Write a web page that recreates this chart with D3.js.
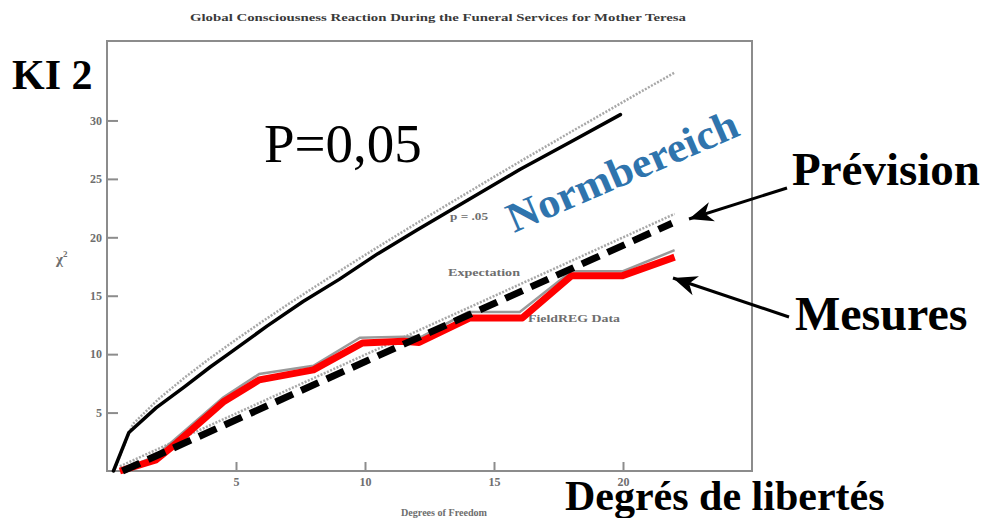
<!DOCTYPE html>
<html>
<head>
<meta charset="utf-8">
<script src="https://cdn.jsdelivr.net/npm/d3@7"></script>
<style>
  body { margin: 0; background: #fff; }
  svg { display: block; }
  .tick text { font-family: 'Liberation Serif', serif; font-weight: bold; font-size: 12px; fill: #6e6e6e; }
  .tick line { stroke: #8c8c8c; stroke-width: 2; }
  .domain { display: none; }
</style>
</head>
<body>
<svg id="chart"></svg>
<script>
// chi-square critical values at p = .05 (grey dotted curve of the original plot)
const critDf  = [0.3, 1, 2, 3, 4, 5, 6, 7, 8, 9, 10, 11, 12, 13, 14, 15, 16, 17, 18, 19, 20, 21, 22];
const critChi = [0, 3.84, 5.99, 7.81, 9.49, 11.07, 12.59, 14.07, 15.51, 16.92, 18.31, 19.68, 21.03,
                 22.36, 23.68, 25.0, 26.3, 27.59, 28.87, 30.14, 31.41, 32.67, 33.92];

// hand drawn black trace over the p = .05 curve
const traceDf  = [0.25, 0.85, 1.9, 3.0, 4.0, 4.7, 6.2, 7.6, 9.0, 10.5, 12.0, 13.3, 16.0, 18.0, 19.9];
const traceChi = [0, 3.3, 5.4, 7.2, 8.9, 10.0, 12.4, 14.5, 16.4, 18.6, 20.6, 22.3, 25.8, 28.2, 30.5];

// expectation (grey dotted) and the thick dashed "Prévision" line
const expectDf  = [0.5, 22];
const expectChi = [0.4, 22];
const predDf  = [0.6, 21.9];
const predChi = [0, 21.2];

// FieldREG data (grey) and the red "Mesures" trace
const fieldDf  = [0.5, 1.9, 4.5, 5.9, 8.0, 9.8, 11.5, 12.2, 14.0, 16.0, 18.0, 20.0, 22.0];
const fieldChi = [0, 1.3, 6.3, 8.3, 9.0, 11.4, 11.5, 11.5, 13.6, 13.6, 17.1, 17.1, 18.9];
const redDf  = [0.5, 1.9, 2.7, 4.5, 5.9, 8.0, 9.9, 11.5, 12.1, 14.07, 16.1, 18.0, 19.96, 22.0];
const redChi = [0, 0.95, 2.4, 5.9, 7.8, 8.65, 10.95, 11.1, 11.0, 13.1, 13.1, 16.7, 16.7, 18.3];

const xTicks = [5, 10, 15, 20];
const yTicks = [5, 10, 15, 20, 25, 30];

const width = 992, height = 518;
const frame = { left: 107, right: 752, top: 41, bottom: 471 };

const svg = d3.select('#chart').attr('width', width).attr('height', height);

const x = d3.scaleLinear().domain([0, 25]).range([frame.left, frame.right]);
const y = d3.scaleLinear().domain([0, 36.8]).range([frame.bottom, frame.top]);

// plot frame
svg.append('rect')
  .attr('x', frame.left).attr('y', frame.top)
  .attr('width', frame.right - frame.left).attr('height', frame.bottom - frame.top)
  .attr('fill', 'none').attr('stroke', '#8c8c8c').attr('stroke-width', 2);

// axes, ticks point inwards
svg.append('g')
  .attr('transform', `translate(${frame.left},0)`)
  .call(d3.axisLeft(y).tickValues(yTicks).tickSizeInner(-11).tickSizeOuter(0).tickPadding(5));

svg.append('g')
  .attr('transform', `translate(0,${frame.bottom})`)
  .call(d3.axisBottom(x).tickValues(xTicks).tickSizeInner(-9).tickSizeOuter(0).tickPadding(6));

// small texts of the scanned chart
svg.append('text')
  .attr('x', 190).attr('y', 21)
  .attr('textLength', 496).attr('lengthAdjust', 'spacingAndGlyphs')
  .style('font-family', 'Liberation Serif, serif').style('font-weight', 'bold')
  .style('font-size', '11px').style('fill', '#3a3a3a')
  .text('Global Consciousness Reaction During the Funeral Services for Mother Teresa');

svg.append('text')
  .attr('x', 401).attr('y', 516)
  .attr('textLength', 86).attr('lengthAdjust', 'spacingAndGlyphs')
  .style('font-family', 'Liberation Serif, serif').style('font-weight', 'bold')
  .style('font-size', '10px').style('fill', '#6e6e6e')
  .text('Degrees of Freedom');

const chiLabel = svg.append('text')
  .attr('x', 56).attr('y', 264)
  .style('font-family', 'Liberation Serif, serif').style('font-weight', 'bold')
  .style('font-size', '15px').style('fill', '#6e6e6e');
chiLabel.append('tspan').text('χ');
chiLabel.append('tspan').attr('dy', -7).style('font-size', '9px').text('2');

const smallLabels = [
  { text: 'p = .05', x: 450, y: 220, len: 38 },
  { text: 'Expectation', x: 448, y: 276, len: 72 },
  { text: 'FieldREG Data', x: 528, y: 322, len: 92 }
];
smallLabels.forEach(d => {
  svg.append('text')
    .attr('x', d.x).attr('y', d.y)
    .attr('textLength', d.len).attr('lengthAdjust', 'spacingAndGlyphs')
    .style('font-family', 'Liberation Serif, serif').style('font-weight', 'bold')
    .style('font-size', '10px').style('fill', '#6e6e6e')
    .text(d.text);
});

const line = d3.line().x(d => x(d[0])).y(d => y(d[1]));
const pairs = (a, b) => a.map((v, i) => [v, b[i]]);

// grey curves of the original plot
svg.append('path')
  .attr('d', line(pairs(critDf, critChi)))
  .attr('fill', 'none').attr('stroke', '#a8a8a8').attr('stroke-width', 2.5)
  .attr('stroke-dasharray', '2 1.5')
  .attr('transform', 'translate(0,-2)');

svg.append('path')
  .attr('d', line(pairs(expectDf, expectChi)))
  .attr('fill', 'none').attr('stroke', '#a8a8a8').attr('stroke-width', 2.5)
  .attr('stroke-dasharray', '2 1.5');

svg.append('path')
  .attr('d', line(pairs(fieldDf, fieldChi)))
  .attr('fill', 'none').attr('stroke', '#9a9a9a').attr('stroke-width', 2.5);

// hand drawn overlays
svg.append('path')
  .attr('d', line(pairs(traceDf, traceChi)))
  .attr('fill', 'none').attr('stroke', '#000').attr('stroke-width', 3.5)
  .attr('stroke-linejoin', 'round').attr('stroke-linecap', 'round');

svg.append('path')
  .attr('d', line(pairs(redDf, redChi)))
  .attr('fill', 'none').attr('stroke', '#ff0000').attr('stroke-width', 7)
  .attr('stroke-linejoin', 'round');

svg.append('path')
  .attr('d', line(pairs(predDf, predChi)))
  .attr('fill', 'none').attr('stroke', '#000').attr('stroke-width', 7)
  .attr('stroke-dasharray', '19 9');

// overlay annotations
const bigText = (txt, px, py, size, weight) => svg.append('text')
  .attr('x', px).attr('y', py)
  .style('font-family', 'Liberation Serif, Times New Roman, serif')
  .style('font-weight', weight).style('font-size', size + 'px').style('fill', '#000')
  .text(txt);

bigText('KI 2', 12, 89, 42, 'bold');
bigText('P=0,05', 264, 162, 55, 'normal');
bigText('Prévision', 792, 185, 47, 'bold');
bigText('Mesures', 795, 330, 48, 'bold');
bigText('Degrés de libertés', 565, 510, 42, 'bold');

svg.append('text')
  .attr('transform', 'translate(514,233) rotate(-23.3)')
  .attr('textLength', 248).attr('lengthAdjust', 'spacingAndGlyphs')
  .style('font-family', 'Liberation Serif, serif').style('font-weight', 'bold')
  .style('font-size', '42px').style('fill', '#2f74ad')
  .text('Normbereich');

// arrows
svg.append('defs').append('marker')
  .attr('id', 'head')
  .attr('markerUnits', 'userSpaceOnUse')
  .attr('viewBox', '-26 -12 28 24')
  .attr('refX', 0).attr('refY', 0)
  .attr('markerWidth', 28).attr('markerHeight', 24)
  .attr('orient', 'auto')
  .append('path')
  .attr('d', 'M0,0 L-24,-10 L-17,0 L-24,10 Z')
  .attr('fill', '#000');

const arrows = [
  { from: [787, 188], to: [689, 219] },
  { from: [789, 317], to: [673, 278] }
];
arrows.forEach(a => {
  svg.append('line')
    .attr('x1', a.from[0]).attr('y1', a.from[1])
    .attr('x2', a.to[0]).attr('y2', a.to[1])
    .attr('stroke', '#000').attr('stroke-width', 3)
    .attr('marker-end', 'url(#head)');
});
</script>
</body>
</html>
